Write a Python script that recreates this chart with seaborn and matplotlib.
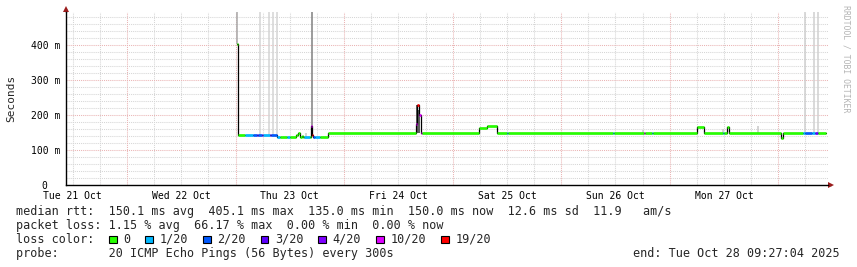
import numpy as np
import pandas as pd
import matplotlib
matplotlib.use("Agg")
import matplotlib.pyplot as plt
import matplotlib.dates as mdates
from matplotlib.ticker import MultipleLocator, FuncFormatter
from matplotlib.patches import Rectangle
import seaborn as sns

# ---------------- data ----------------
# median rtt steps (start time, median in ms, lost pings out of 20)
seg_start = [
    "2025-10-23 00:19", "2025-10-23 00:32", "2025-10-23 02:05", "2025-10-23 03:51",
    "2025-10-23 04:45", "2025-10-23 04:58", "2025-10-23 05:51", "2025-10-23 06:04",
    "2025-10-23 07:37", "2025-10-23 07:50", "2025-10-23 09:06", "2025-10-23 09:50",
    "2025-10-23 11:23", "2025-10-23 12:02", "2025-10-23 13:22", "2025-10-23 13:52",
    "2025-10-23 14:15", "2025-10-23 14:38", "2025-10-23 14:55", "2025-10-23 15:08",
    "2025-10-23 16:28", "2025-10-23 16:45", "2025-10-23 16:58", "2025-10-23 17:08",
    "2025-10-23 17:34", "2025-10-23 18:40", "2025-10-23 20:30",
    "2025-10-24 15:54", "2025-10-24 16:07", "2025-10-24 16:34", "2025-10-24 17:00",
    "2025-10-24 17:13",
    "2025-10-25 05:54", "2025-10-25 07:32", "2025-10-25 09:52", "2025-10-25 12:01",
    "2025-10-25 12:15",
    "2025-10-26 11:27", "2025-10-26 11:40", "2025-10-26 18:18", "2025-10-26 18:31",
    "2025-10-26 20:05", "2025-10-26 20:18",
    "2025-10-27 05:58", "2025-10-27 07:38", "2025-10-27 11:46", "2025-10-27 11:59",
    "2025-10-27 12:36", "2025-10-27 13:02",
    "2025-10-28 00:32", "2025-10-28 00:58", "2025-10-28 05:32", "2025-10-28 05:54",
    "2025-10-28 07:27", "2025-10-28 08:07", "2025-10-28 08:47",
]
seg_median = [
    405, 143, 143, 143,
    143, 143, 143, 143,
    143, 143, 137, 137,
    137, 137, 143, 148,
    137, 141, 137, 137,
    137, 168, 145, 137,
    137, 137, 150,
    175, 228, 200, 150,
    150,
    165, 169, 150, 150,
    150,
    150, 150, 150, 150,
    150, 150,
    166, 150, 150, 150,
    166, 150,
    134, 150, 150, 150,
    150, 150, 150,
]
seg_loss = [
    0, 0, 1, 2,
    3, 2, 4, 1,
    3, 2, 1, 0,
    1, 0, 0, 0,
    0, 0, 0, 1,
    0, 10, 19, 2,
    1, 0, 0,
    10, 19, 10, 10,
    0,
    0, 0, 0, 1,
    0,
    1, 0, 10, 0,
    1, 0,
    0, 0, 1, 0,
    0, 0,
    0, 0, 1, 2,
    1, 3, 0,
]
data_end = "2025-10-28 10:33"

# smoke: spread of individual pings (time, low ms, high ms, shade)
smoke_time = ["2025-10-23 00:19", "2025-10-23 05:31", "2025-10-23 07:28", "2025-10-23 08:21",
              "2025-10-23 09:06", "2025-10-23 15:40", "2025-10-23 16:58", "2025-10-24 16:07",
              "2025-10-24 16:34", "2025-10-26 18:05", "2025-10-27 11:46", "2025-10-27 19:31",
              "2025-10-28 05:58", "2025-10-28 07:58", "2025-10-28 08:51"]
smoke_low = [405, 143, 143, 143, 143, 137, 145, 150, 150, 150, 150, 150, 150, 150, 150]
smoke_high = [495, 495, 495, 495, 495, 150, 495, 230, 215, 158, 162, 170, 495, 495, 495]
smoke_shade = ["#a8a8a8", "#d4d4d4", "#d4d4d4", "#d4d4d4", "#d4d4d4", "#c8c8c8", "#808080",
               "#303030", "#303030", "#c8c8c8", "#c8c8c8", "#c8c8c8", "#d0d0d0", "#d0d0d0",
               "#d0d0d0"]

loss_levels = [0, 1, 2, 3, 4, 10, 19]
loss_labels = ["0", "1/20", "2/20", "3/20", "4/20", "10/20", "19/20"]
loss_colors = ["#26ff00", "#00b8ff", "#0059ff", "#5e00ff", "#7e00ff", "#dd00ff", "#ff0000"]

view_start = "2025-10-21 10:35"
view_end = "2025-10-28 11:06"

stats_line1 = "median rtt:  150.1 ms avg  405.1 ms max  135.0 ms min  150.0 ms now  12.6 ms sd  11.9   am/s"
stats_line2 = "packet loss: 1.15 % avg  66.17 % max  0.00 % min  0.00 % now"
probe_line = "probe:       20 ICMP Echo Pings (56 Bytes) every 300s"
end_line = "end: Tue Oct 28 09:27:04 2025"

# ---------------- drawing ----------------
sns.set_theme(style="white")
plt.rcParams["font.family"] = ["DejaVu Sans Mono", "DejaVu Sans"]

W, H = 857, 267
fig = plt.figure(figsize=(W / 100, H / 100), dpi=100)
fig.patch.set_facecolor("white")
x0, x1, ybot, ytop = 66.3, 828.5, 185.3, 12.0
ax = fig.add_axes([x0 / W, (H - ybot) / H, (x1 - x0) / W, (ybot - ytop) / H])
ax.set_facecolor("white")

def dn(s):
    return mdates.date2num(pd.to_datetime(s).to_pydatetime())

t_start = np.array([dn(s) for s in seg_start])
t_end = np.append(t_start[1:], dn(data_end))
med = np.array(seg_median, dtype=float)
cmap = dict(zip(loss_levels, loss_colors))

ax.set_xlim(dn(view_start), dn(view_end))
ax.set_ylim(0, 495)

# grid
dot = (0, (1, 1))
major_c = "#eab4b4"
minor_c = "#d6d6d6"
ax.yaxis.set_major_locator(MultipleLocator(100))
ax.yaxis.set_minor_locator(MultipleLocator(20))
ax.xaxis.set_major_locator(mdates.HourLocator(byhour=[12]))
ax.xaxis.set_minor_locator(mdates.HourLocator(byhour=[6, 18]))
ax.xaxis.set_major_formatter(mdates.DateFormatter("%a %d %b"))
ax.yaxis.set_major_formatter(FuncFormatter(lambda v, p: "0  " if v == 0 else f"{int(v)} m"))
ax.grid(which="major", axis="y", color=major_c, ls=dot, lw=0.75)
ax.grid(which="minor", axis="y", color=minor_c, ls=dot, lw=0.75)
ax.grid(which="both", axis="x", color=minor_c, ls=dot, lw=0.75)
midnights = pd.date_range("2025-10-22", "2025-10-28", freq="D")
ax.vlines([mdates.date2num(d.to_pydatetime()) for d in midnights], 0, 495,
          colors=major_c, linestyles=dot, lw=0.75, zorder=0.6)
ax.set_axisbelow(True)

# smoke
ax.vlines([dn(s) for s in smoke_time], smoke_low, smoke_high, colors=smoke_shade, lw=1.1, zorder=1)

# black step line (median, vertical transitions)
sx = np.append(t_start, t_end[-1])
sy = np.append(med, med[-1])
sns.lineplot(x=sx, y=sy, ax=ax, color="black", lw=0.9, drawstyle="steps-post",
             estimator=None, sort=False, zorder=2)

# coloured median by loss
ax.hlines(med, t_start, t_end, colors=[cmap[l] for l in seg_loss], lw=1.9, zorder=3)

# axes styling
for s in ["top", "right"]:
    ax.spines[s].set_visible(False)
for s in ["left", "bottom"]:
    ax.spines[s].set_color("black")
    ax.spines[s].set_linewidth(1.0)
ax.tick_params(axis="both", which="both", length=0, labelsize=7, colors="black")
ax.tick_params(axis="y", pad=4.5)
ax.tick_params(axis="x", pad=4.3)
ax.set_xlabel("")
ax.set_ylabel("")

# axis arrows
arrow_c = "#9b1c1c"
ax.plot([0, 0], [1, 1.015], transform=ax.transAxes, color="black", lw=1.0, clip_on=False)
ax.plot([0], [1.02], transform=ax.transAxes, marker="^", ms=4.2, color=arrow_c, clip_on=False, mew=0)
ax.plot([1, 1.003], [0, 0], transform=ax.transAxes, color="black", lw=1.0, clip_on=False)
ax.plot([1.0035], [0], transform=ax.transAxes, marker=">", ms=4.2, color=arrow_c, clip_on=False, mew=0)

# texts
fig.text(11 / W, 1 - 98 / H, "Seconds", rotation=90, ha="center", va="center", fontsize=8)
fig.text(846 / W, 1 - 5 / H, "RRDTOOL / TOBI OETIKER", rotation=270, ha="center", va="top",
         fontsize=5.9, color="#b4b4b4")

fs = 8.5
def ftext(x, ybase, s, **kw):
    fig.text(x / W, 1 - ybase / H, s, ha="left", va="baseline", fontsize=fs, **kw)

ftext(16, 215, stats_line1)
ftext(16, 229, stats_line2)
ftext(16, 243, "loss color:")
xs = 108.7
for lab, col in zip(loss_labels, loss_colors):
    fig.patches.append(Rectangle((xs / W, 1 - 243.3 / H), 7.8 / W, 7.8 / H, transform=fig.transFigure,
                                 facecolor=col, edgecolor="black", lw=0.8, figure=fig))
    ftext(xs + 14.5, 243, lab)
    xs += 29.2 + len(lab) * 7.14
ftext(16, 257, probe_line)
fig.text(840 / W, 1 - 257 / H, end_line, ha="right", va="baseline", fontsize=fs)

fig.savefig("out.png", dpi=100, facecolor="white")
